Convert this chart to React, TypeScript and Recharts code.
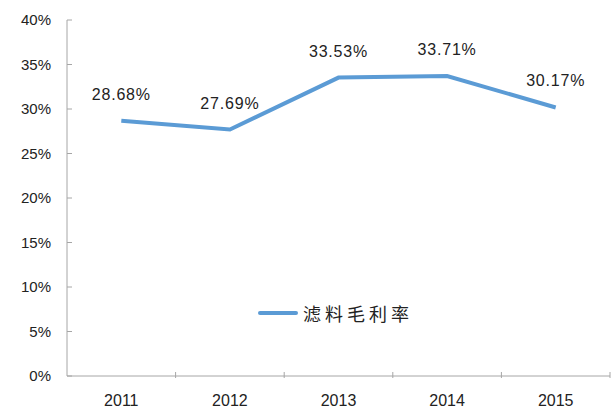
import React from 'react';
import { LineChart, Line, XAxis, YAxis, LabelList } from 'recharts';

const years = ['2011', '2012', '2013', '2014', '2015'];
const margins = [28.68, 27.69, 33.53, 33.71, 30.17];
const yTicks = [0, 5, 10, 15, 20, 25, 30, 35, 40];
const seriesName = '滤料毛利率';

const data = years.map((year, i) => ({ year, value: margins[i] }));

const LINE_COLOR = '#5b9bd5';
const AXIS_COLOR = '#a6a6a6';
const BAND = (610 - 67) / years.length;

// y 轴刻度：刻度线朝内
const YTick = (props: any) => {
  const { x, y, payload } = props;
  return (
    <g>
      <line x1={x} y1={y} x2={x + 5} y2={y} stroke={AXIS_COLOR} strokeWidth={1} />
      <text x={x - 16} y={y} dy={5} textAnchor="end" fill="#222" fontSize={15} fontFamily="'Liberation Sans', Arial, sans-serif">
        {`${payload.value}%`}
      </text>
    </g>
  );
};

// x 轴刻度：刻度线在类别之间
const XTick = (props: any) => {
  const { x, y, payload, index } = props;
  const left = x - BAND / 2;
  return (
    <g>
      {index > 0 && <line x1={left} y1={y} x2={left} y2={y - 6} stroke={AXIS_COLOR} strokeWidth={1} />}
      {index === years.length - 1 && (
        <line x1={x + BAND / 2} y1={y} x2={x + BAND / 2} y2={y - 6} stroke={AXIS_COLOR} strokeWidth={1} />
      )}
      <text x={x} y={y + 28} textAnchor="middle" fill="#222" fontSize={16} fontFamily="'Liberation Sans', Arial, sans-serif">
        {payload.value}
      </text>
    </g>
  );
};

export default function App() {
  return (
    <div style={{ position: 'absolute', left: 0, top: 0, width: 616, height: 408, background: '#fff' }}>
      <LineChart width={616} height={408} data={data} margin={{ top: 20, right: 6, left: 0, bottom: 0 }}>
        <XAxis
          dataKey="year"
          height={32}
          stroke={AXIS_COLOR}
          tickLine={false}
          tickSize={0}
          tick={<XTick />}
          interval={0}
          padding={{ left: BAND / 2, right: BAND / 2 }}
        />
        <YAxis
          width={67}
          domain={[0, 40]}
          ticks={yTicks}
          stroke={AXIS_COLOR}
          tickLine={false}
          tickSize={0}
          tickMargin={0}
          tick={<YTick />}
          interval={0}
        />
        <Line
          type="linear"
          dataKey="value"
          name={seriesName}
          stroke={LINE_COLOR}
          strokeWidth={4}
          dot={false}
          activeDot={false}
          isAnimationActive={false}
        >
          <LabelList
            dataKey="value"
            position="top"
            offset={21}
            formatter={(v: number) => `${v.toFixed(2)}%`}
            style={{ fontSize: 16, letterSpacing: 0.8, fill: '#222', fontFamily: "'Liberation Sans', Arial, sans-serif" }}
          />
        </Line>
      </LineChart>
      <div style={{ position: 'absolute', left: 258, top: 300, display: 'flex', alignItems: 'center' }}>
        <div style={{ width: 40, height: 4, background: LINE_COLOR, borderRadius: 2, marginRight: 5 }} />
        <span style={{ fontSize: 18, letterSpacing: 4, color: '#222', fontFamily: "'Noto Sans CJK SC', sans-serif" }}>
          {seriesName}
        </span>
      </div>
    </div>
  );
}
